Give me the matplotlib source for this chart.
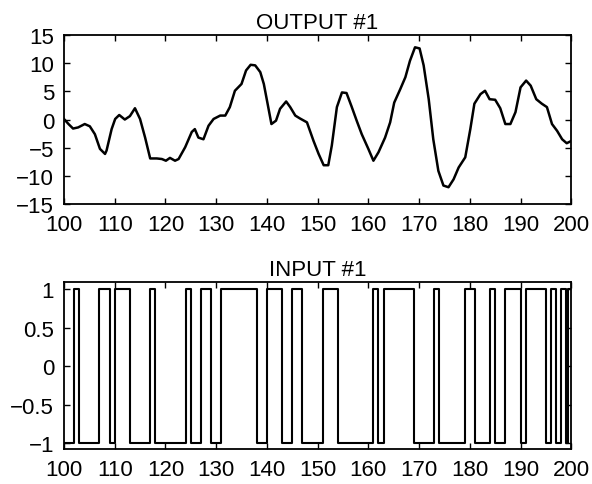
import numpy as np
import matplotlib
matplotlib.use("Agg")
import matplotlib.pyplot as plt

plt.rcParams['font.family'] = ['Liberation Sans', 'DejaVu Sans']
plt.rcParams['font.size'] = 16

# Output signal samples (time, value)
t_out = [100.0, 100.9, 101.8, 102.8, 104.1, 105.1, 106.1, 107.1, 108.1, 108.4,
         109.4, 110.1, 110.9, 112.0, 113.0, 114.0, 115.0, 116.0, 117.0, 118.3,
         119.3, 120.1, 120.9, 121.9, 122.6, 123.9, 125.2, 125.8, 126.5, 127.5,
         128.5, 129.5, 130.8, 131.8, 132.7, 133.7, 135.0, 135.9, 136.8, 137.7,
         138.7, 139.4, 140.1, 140.9, 141.8, 142.6, 143.8, 144.6, 145.6, 146.5,
         147.9, 149.2, 150.2, 151.2, 152.1, 152.8, 153.8, 154.8, 155.7, 156.7,
         157.7, 158.7, 160.0, 161.0, 162.0, 163.3, 164.3, 165.1, 166.3, 167.3,
         168.2, 169.2, 170.1, 170.9, 171.9, 172.8, 173.8, 174.8, 175.8, 176.8,
         177.8, 179.1, 180.1, 180.9, 182.1, 183.0, 183.9, 185.0, 186.0, 187.0,
         188.0, 189.0, 190.0, 191.1, 192.0, 193.1, 194.2, 195.2, 196.2, 197.2,
         198.2, 199.1, 200.0]
y_out = [0.1, -0.8, -1.6, -1.4, -0.8, -1.2, -2.6, -5.2, -6.1, -5.5,
         -1.7, 0.1, 0.8, 0.0, 0.6, 2.0, 0.1, -3.2, -6.9, -6.9,
         -7.0, -7.3, -6.8, -7.3, -7.0, -4.9, -2.2, -1.7, -3.2, -3.5,
         -1.1, 0.1, 0.7, 0.7, 2.2, 5.1, 6.3, 8.7, 9.7, 9.6,
         8.4, 6.3, 3.0, -0.8, -0.2, 1.9, 3.2, 2.2, 0.7, 0.2,
         -0.5, -3.8, -6.1, -8.1, -8.1, -4.6, 2.2, 4.8, 4.7, 2.3,
         -0.2, -2.6, -5.2, -7.3, -5.8, -3.2, -0.5, 3.0, 5.4, 7.5,
         10.4, 12.8, 12.6, 9.6, 3.6, -3.5, -9.1, -11.7, -12.0, -10.6,
         -8.5, -6.7, -1.7, 2.8, 4.5, 5.1, 3.6, 3.5, 2.0, -0.8,
         -0.8, 1.3, 5.7, 6.9, 6.0, 3.6, 2.8, 2.2, -0.8, -2.0,
         -3.5, -4.2, -3.8]

# Binary input: intervals where the input is +1 (otherwise -1)
high_start = [102, 107, 110, 117, 124, 127, 131, 140, 145, 151,
              161, 163, 173, 179, 184, 187, 191, 196, 198, 199.4]
high_end = [103, 109, 113, 118, 125, 129, 138, 143, 147, 154,
            162, 169, 174, 181, 185, 190, 195, 197, 199, 200]

x_ticks = [100, 110, 120, 130, 140, 150, 160, 170, 180, 190, 200]
out_yticks = [-15, -10, -5, 0, 5, 10, 15]
in_yticks = [-1, -0.5, 0, 0.5, 1]
in_yticklabels = ['\u22121', '\u22120.5', '0', '0.5', '1']

# Build the staircase for the input signal
t_in = [100.0]
u_in = [-1.0]
for s, e in zip(high_start, high_end):
    t_in += [s, s, e, e]
    u_in += [-1.0, 1.0, 1.0, -1.0 if e < 200 else 1.0]
if t_in[-1] < 200:
    t_in.append(200.0)
    u_in.append(u_in[-1])

fig = plt.figure(figsize=(5.92, 4.85), dpi=100)
ax1 = fig.add_axes([0.108, 0.577, 0.857, 0.349])
ax2 = fig.add_axes([0.108, 0.072, 0.857, 0.345])

ax1.plot(t_out, y_out, color='black', lw=1.8)
ax1.set_xlim(100, 200)
ax1.set_ylim(-15, 15)
ax1.set_yticks(out_yticks)
ax1.set_title('OUTPUT #1', fontsize=16, pad=5)

ax2.plot(t_in, u_in, color='black', lw=1.5)
ax2.set_xlim(100, 200)
ax2.set_ylim(-1.08, 1.1)
ax2.set_yticks(in_yticks)
ax2.set_yticklabels(in_yticklabels)
ax2.set_title('INPUT #1', fontsize=16, pad=5)

for ax in (ax1, ax2):
    ax.set_xticks(x_ticks)
    ax.tick_params(direction='in', top=True, right=True, length=4,
                   width=1.0, labelsize=16)
    ax.tick_params(axis='x', pad=7)
    ax.tick_params(axis='y', pad=7)
    for sp in ax.spines.values():
        sp.set_linewidth(1.3)

fig.savefig('out.png', dpi=100)
